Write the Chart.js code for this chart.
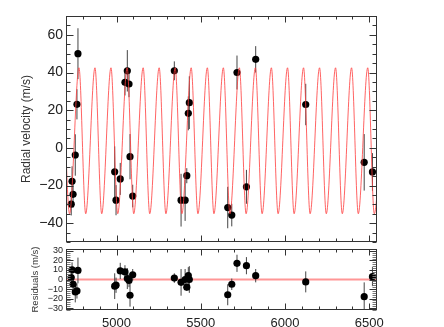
<!DOCTYPE html>
<html>
<head>
<meta charset="utf-8">
<script src="https://cdn.jsdelivr.net/npm/chart.js@4.4.1/dist/chart.umd.min.js"></script>
<style>
  html, body { margin: 0; padding: 0; background: #fff; }
  #top { position: absolute; left: 0; top: 0; width: 444px; height: 246px; }
  #bot { position: absolute; left: 0; top: 245px; width: 444px; height: 82px; }
</style>
</head>
<body>
<div id="top"><canvas id="rv"></canvas></div>
<div id="bot"><canvas id="res"></canvas></div>
<script>
// Observation times (days) and measured radial velocities with errors
const times = [4731, 4736, 4742, 4755, 4765, 4771, 4989, 4997, 5022, 5050, 5064, 5074, 5080, 5096,
               5343, 5383, 5407, 5417, 5426, 5432, 5660, 5684, 5715, 5771, 5826, 6123, 6470, 6519];
const rv = [-29.9, -17.8, -24.7, -3.8, 23.1, 50.0, -12.7, -27.8, -16.5, 34.8, 40.9, 33.9, -4.7, -25.6,
            40.9, -27.8, -27.8, -14.8, 18.3, 24.0, -31.7, -35.7, 40.0, -20.7, 47.0, 23.0, -7.7, -12.8];
const rvErr = [6, 8, 7, 11, 8, 13.5, 13.5, 8, 8.5, 7, 11, 7, 12, 6,
               5, 14, 11, 4, 9, 14, 11, 6, 9, 9, 7, 11, 15, 10];
const resid = [2, 10, -5, -13, -12, 9.5, -7, -6, 9, 8, 1, -1, -16.5, 5,
               1.5, -3, 0, -8, 4, 0, -16, -5, 17, 14.5, 4, -2.5, -18, 3];

// Orbit model: times of maxima / minima and their values
const modelT = [4682, 4721, 4777, 4817, 4872, 4912, 4967, 5007, 5063, 5102, 5158, 5197, 5253, 5293,
                5348, 5388, 5443, 5483, 5539, 5578, 5634, 5673, 5729, 5769, 5824, 5864, 5919, 5959,
                6015, 6054, 6110, 6149, 6205, 6245, 6300, 6340, 6395, 6435, 6491, 6530, 6586];
const modelV = [42.5, -35, 42.5, -35, 42.5, -35, 42.5, -35, 42.5, -35, 42.5, -35, 42.5, -35,
                42.5, -35, 42.5, -35, 42.5, -35, 42.5, -35, 42.5, -35, 42.5, -35, 42.5, -35,
                42.5, -35, 42.5, -35, 42.5, -35, 42.5, -35, 42.5, -35, 42.5, -35, 42.5];

const zeroT = [4700, 6546];
const zeroV = [0, 0];

// Axis ranges and tick labels
const xMin = 4700, xMax = 6546;
const xTicks = [5000, 5500, 6000, 6500];
const rvTicks = [-40, -20, 0, 20, 40, 60];
const resTicks = [-30, -20, -10, 0, 10, 20, 30];

const FONT = "'Liberation Sans', Arial, Helvetica, sans-serif";
const fmt = v => (v < 0 ? '\u2212' + Math.abs(v) : String(v));

function pts(xs, ys) {
  return xs.map((x, i) => ({ x: x, y: ys[i] }));
}

// vertical error segments separated by gaps
function bars(vals, errs) {
  const out = [];
  times.forEach((t, i) => {
    out.push({ x: t, y: vals[i] - errs[i] }, { x: t, y: vals[i] + errs[i] }, { x: t, y: null });
  });
  return out;
}

// stop the layout from reserving room for half tick labels
const noPad = s => { s.paddingTop = 0; s.paddingBottom = 0; s.paddingLeft = 0; s.paddingRight = 0; };

// box around the plot with inward ticks on all four sides
const framePlugin = {
  id: 'frame',
  afterDatasetsDraw(chart, args, o) {
    const { ctx, chartArea: a, scales: { x, y } } = chart;
    const L = Math.round(a.left) + 0.5, R = Math.round(a.right) - 0.5;
    const T = Math.round(a.top) + 0.5, B = Math.round(a.bottom) - 0.5;
    ctx.save();
    ctx.lineWidth = 1;
    ctx.strokeStyle = '#333';
    ctx.beginPath();
    for (let v = Math.ceil(x.min / o.xMinor) * o.xMinor; v <= x.max; v += o.xMinor) {
      const px = Math.round(x.getPixelForValue(v)) + 0.5;
      const len = v % o.xMajor === 0 ? 6 : 3;
      ctx.moveTo(px, T); ctx.lineTo(px, T + len);
      ctx.moveTo(px, B); ctx.lineTo(px, B - len);
    }
    ctx.stroke();
    ctx.beginPath();
    for (let v = Math.ceil(y.min / o.yMinor) * o.yMinor; v <= y.max; v += o.yMinor) {
      if (v % o.yMajor === 0) continue;
      const py = Math.round(y.getPixelForValue(v)) + 0.5;
      ctx.moveTo(L, py); ctx.lineTo(L + 4, py);
      ctx.moveTo(R, py); ctx.lineTo(R - 4, py);
    }
    ctx.strokeStyle = o.minorColor;
    ctx.stroke();
    ctx.beginPath();
    for (let v = Math.ceil(y.min / o.yMajor) * o.yMajor; v <= y.max; v += o.yMajor) {
      const py = Math.round(y.getPixelForValue(v)) + 0.5;
      ctx.moveTo(L, py); ctx.lineTo(L + 7, py);
      ctx.moveTo(R, py); ctx.lineTo(R - 7, py);
    }
    ctx.strokeStyle = '#333';
    ctx.stroke();
    ctx.strokeRect(L, T, R - L, B - T);
    ctx.restore();
  }
};

Chart.register(framePlugin);

const common = {
  responsive: true,
  maintainAspectRatio: false,
  animation: false,
  events: [],
  plugins: { legend: { display: false }, tooltip: { enabled: false } }
};

new Chart(document.getElementById('rv'), {
  type: 'line',
  data: {
    datasets: [
      {
        data: pts(modelT, modelV),
        borderColor: 'rgba(255,60,60,0.8)',
        borderWidth: 1,
        pointRadius: 0,
        cubicInterpolationMode: 'monotone',
        fill: false
      },
      {
        data: pts(times, rv),
        showLine: false,
        pointRadius: 3.6,
        pointBackgroundColor: '#000',
        pointBorderWidth: 0
      },
      {
        data: bars(rv, rvErr),
        borderColor: '#444',
        borderWidth: 1,
        pointRadius: 0,
        spanGaps: false
      }
    ]
  },
  options: {
    ...common,
    layout: { padding: { left: 0, top: 16, right: 67, bottom: 1 } },
    scales: {
      x: { type: 'linear', min: xMin, max: xMax, display: false, afterFit: noPad },
      y: {
        min: -50, max: 70,
        afterBuildTicks: s => { s.ticks = rvTicks.map(v => ({ value: v })); },
        afterFit: s => { s.width = 66; noPad(s); },
        grid: { display: false, drawTicks: false },
        border: { display: false },
        ticks: { padding: 3, color: '#222', font: { family: FONT, size: 14 }, callback: fmt },
        title: {
          display: true, text: 'Radial velocity (m/s)', color: '#333',
          font: { family: FONT, size: 12 }, padding: { top: 19, bottom: 0 }
        }
      }
    },
    plugins: { ...common.plugins, frame: { xMinor: 100, xMajor: 500, yMinor: 5, yMajor: 20, minorColor: '#333' } }
  }
});

new Chart(document.getElementById('res'), {
  type: 'line',
  data: {
    datasets: [
      {
        data: pts(times, resid),
        showLine: false,
        pointRadius: 3.6,
        pointBackgroundColor: '#000',
        pointBorderWidth: 0
      },
      {
        data: bars(resid, rvErr),
        borderColor: '#444',
        borderWidth: 1,
        pointRadius: 0,
        spanGaps: false
      },
      {
        data: pts(zeroT, zeroV),
        borderColor: 'rgba(255,150,150,1)',
        borderWidth: 2,
        pointRadius: 0
      }
    ]
  },
  options: {
    ...common,
    layout: { padding: { left: 0, top: 0, right: 67, bottom: 0 } },
    scales: {
      x: {
        type: 'linear', min: xMin, max: xMax,
        afterBuildTicks: s => { s.ticks = xTicks.map(v => ({ value: v })); },
        afterFit: s => { s.height = 17; noPad(s); },
        grid: { display: false, drawTicks: false },
        border: { display: false },
        ticks: { padding: 6, color: '#222', maxRotation: 0, font: { family: FONT, size: 13 }, callback: v => String(v) }
      },
      y: {
        min: -32, max: 32,
        afterBuildTicks: s => { s.ticks = resTicks.map(v => ({ value: v })); },
        afterFit: s => { s.width = 66; noPad(s); },
        grid: { display: false, drawTicks: false },
        border: { display: false },
        ticks: { padding: 3, color: '#222', autoSkip: false, font: { family: FONT, size: 9 }, callback: fmt },
        title: {
          display: true, text: 'Residuals (m/s)', color: '#333',
          font: { family: FONT, size: 9.5 }, padding: { top: 30, bottom: 0 }
        }
      }
    },
    plugins: { ...common.plugins, frame: { xMinor: 100, xMajor: 500, yMinor: 2, yMajor: 10, minorColor: '#777' } }
  }
});
</script>
</body>
</html>
